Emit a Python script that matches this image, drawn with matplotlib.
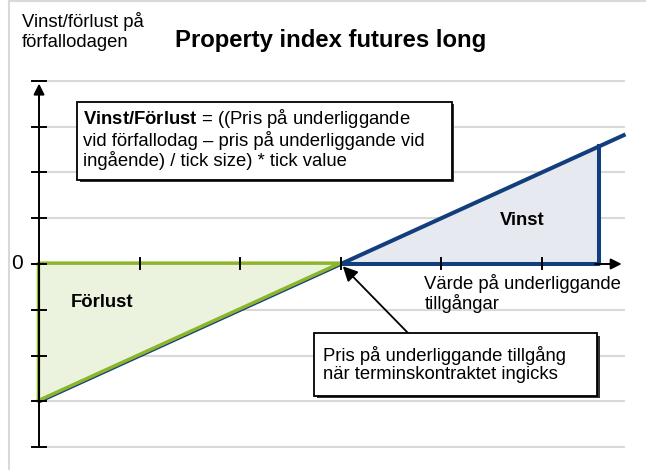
import matplotlib
matplotlib.use("Agg")
import matplotlib.pyplot as plt
import matplotlib.patheffects as pe
from matplotlib.patches import Polygon, Rectangle
from matplotlib.lines import Line2D

plt.rcParams['font.family'] = ['Liberation Sans', 'DejaVu Sans']
plt.rcParams['mathtext.fontset'] = 'custom'
plt.rcParams['mathtext.rm'] = 'Liberation Sans'
plt.rcParams['mathtext.bf'] = 'Liberation Sans:bold'

# --- data (underlying price vs profit/loss at expiry) ---
x_ticks = [0, 1, 2, 3, 4, 5]
y_ticks = [-4, -3, -2, -1, 0, 1, 2, 3, 4]
strike = 3.0
underlying = [0.0, 3.0, 5.57, 5.83]
payoff = [-3.0, 0.0, 2.57, 2.83]

NAVY = '#123F7C'
GREEN = '#8DB52A'
GREEN_FILL = '#EBF2DE'
NAVY_FILL = '#E6E9F0'
GRID = '#D9D9D9'

fig = plt.figure(figsize=(6.46, 4.70), dpi=100)
ax = fig.add_axes([0, 0, 1, 1])
ax.set_xlim(-0.388, 6.034)
ax.set_ylim(-4.498, 5.764)
ax.axis('off')

# frame remnants (top + left)
fig.add_artist(Line2D([0.0132, 0.0132], [0, 0.997], color=GRID, lw=1.5))
fig.add_artist(Line2D([0.0132, 1], [0.997, 0.997], color=GRID, lw=1.5))

# grid
for yv in y_ticks:
    if yv != 0:
        ax.plot([0.06, 5.82], [yv, yv], color=GRID, lw=1.5, zorder=1)

# filled regions
loss = Polygon([(underlying[0], 0), (underlying[1], payoff[1]), (underlying[0], payoff[0])],
               closed=True, fc=GREEN_FILL, ec='none', zorder=2)
gain = Polygon([(underlying[1], payoff[1]), (underlying[2], payoff[2]), (underlying[2], 0)],
               closed=True, fc=NAVY_FILL, ec='none', zorder=2)
ax.add_patch(loss)
ax.add_patch(gain)

# payoff line
ax.plot([underlying[0], underlying[3]], [payoff[0], payoff[3]], color=NAVY, lw=2.9, zorder=4,
        solid_capstyle='butt')
# profit triangle edges
ax.plot([underlying[1], underlying[2], underlying[2]], [0, 0, payoff[2]], color=NAVY, lw=2.9, zorder=4)
# loss triangle outline (sits slightly above the payoff line)
ax.plot([underlying[0], underlying[1], underlying[0], underlying[0]],
        [payoff[0], 0, 0, payoff[0]], color=GREEN, lw=2.5, zorder=5,
        path_effects=[pe.Stroke(offset=(-0.4, 0.6))])

# axes
ax.plot([0, 0], [y_ticks[0], y_ticks[-1] - 0.2], color='k', lw=1.4, zorder=6)
ax.annotate('', xy=(0, y_ticks[-1]), xytext=(0, y_ticks[-1] - 0.5),
            arrowprops=dict(arrowstyle='-|>', color='k', lw=1.4, mutation_scale=16), zorder=6)
for yv in y_ticks:
    ax.plot([-0.065, 0.065], [yv, yv], color='k', lw=1.4, zorder=6)
ax.plot([underlying[2], 5.6], [0, 0], color='k', lw=1.4, zorder=3)
ax.annotate('', xy=(5.82, 0), xytext=(5.5, 0),
            arrowprops=dict(arrowstyle='-|>', color='k', lw=1.4, mutation_scale=16), zorder=6)
for xv in x_ticks[1:]:
    ax.plot([xv, xv], [-0.12, 0.12], color='k', lw=1.4, zorder=6)

# labels
fig.text(0.034, 0.975, 'Vinst/förlust på\nförfallodagen', fontsize=13.3, va='top', ha='left',
         linespacing=1.25)
fig.text(0.271, 0.913, 'Property index futures long', fontsize=17.2, fontweight='bold',
         va='center', ha='left')
ax.text(-0.16, 0, '0', fontsize=15, ha='right', va='center')
ax.text(0.32, -0.83, 'Förlust', fontsize=13.3, fontweight='bold', va='center', zorder=7)
ax.text(4.80, 0.94, 'Vinst', fontsize=13.3, fontweight='bold', ha='center', va='center', zorder=7)
ax.text(3.83, -0.22, 'Värde på underliggande\ntillgångar', fontsize=13.3, va='top',
        linespacing=1.05, zorder=7)

shadow = [pe.SimplePatchShadow(offset=(1.8, -1.8), shadow_rgbFace='#333333', alpha=1.0), pe.Normal()]

# formula box
box1 = Rectangle((0.378, 1.834), 3.727, 1.703, fc='white', ec='black', lw=1.3, zorder=8)
box1.set_path_effects(shadow)
ax.add_patch(box1)
ax.text(0.437, 3.43,
        r'$\mathbf{Vinst/Förlust}$ = ((Pris på underliggande' '\n'
        'vid förfallodag – pris på underliggande vid\n'
        'ingående) / tick size) * tick value',
        fontsize=13.3, va='top', ha='left', linespacing=1.08, zorder=9)

# strike box + arrow
box2 = Rectangle((2.734, -2.882), 2.813, 1.375, fc='white', ec='black', lw=1.3, zorder=8)
box2.set_path_effects(shadow)
ax.add_patch(box2)
ax.text(2.823, -2.19, 'Pris på underliggande tillgång\nnär terminskontraktet ingicks',
        fontsize=13.3, va='center', ha='left', linespacing=1.08, zorder=9)
ax.annotate('', xy=(strike + 0.02, -0.05), xytext=(3.668, -1.507),
            arrowprops=dict(arrowstyle='-|>', color='k', lw=1.3, mutation_scale=22,
                            shrinkA=0, shrinkB=0), zorder=7)

fig.savefig('out.png', dpi=100)
